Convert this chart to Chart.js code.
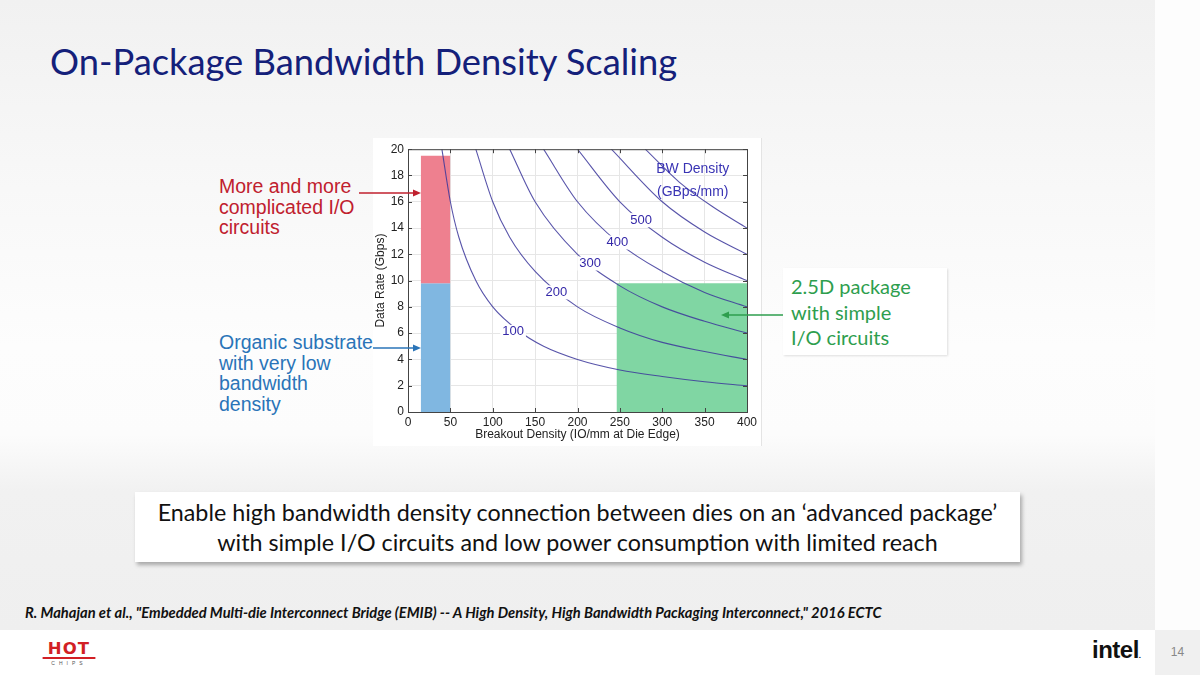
<!DOCTYPE html>
<html>
<head>
<meta charset="utf-8">
<script src="https://cdn.jsdelivr.net/npm/chart.js@4.4.1/dist/chart.umd.min.js"></script>
<style>
  html, body { margin: 0; padding: 0; }
  body { width: 1200px; height: 675px; position: relative; overflow: hidden; background: #fff; font-family: Lato, sans-serif; }
  .slide { position: absolute; left: 0; top: 0; width: 1155px; height: 630px;
    background: linear-gradient(to bottom, #f1f1f1 0%, #f8f8f8 30%, #fdfdfd 55%, #fcfcfc 69%, #f1f1f1 78%, #efefef 100%); }
  .side { position: absolute; left: 1155px; top: 0; width: 45px; height: 630px; background: #fdfdfd; }
  .pagebox { position: absolute; left: 1155px; top: 630px; width: 45px; height: 45px; background: #f0f0f0;
    color: #888; font: 12px "Liberation Sans", sans-serif; text-align: center; line-height: 45px; }
  .title { position: absolute; left: 50px; top: 39px; font-size: 36.3px; color: #14207a; white-space: nowrap; }
  .chartbox { position: absolute; left: 373px; top: 138px; width: 388px; height: 308px; background: #fff; border-right: 1px solid #e4e4e4; }
  #chart { position: absolute; left: 373px; top: 138px; }
  .note { position: absolute; font: 19.5px/20.5px "Liberation Sans", Arial, sans-serif; white-space: nowrap; }
  .red { left: 219px; top: 176px; color: #c0202e; }
  .blue { left: 219px; top: 332px; color: #2a74b8; }
  .greenbox { position: absolute; left: 783px; top: 268px; width: 164px; height: 87px; background: #fff;
    box-shadow: 1px 1px 2px rgba(0,0,0,0.12); }
  .greenbox div { position: absolute; left: 8px; top: 6px; font-size: 20px; line-height: 25.5px; color: #2e9e4e; white-space: nowrap; }
  .caption { position: absolute; left: 135px; top: 492px; width: 885px; height: 70px; background: #fff;
    box-shadow: 2px 3px 4px rgba(0,0,0,0.3); text-align: center; font-size: 23.3px; line-height: 30px; color: #111; }
  .caption div { padding-top: 5px; }
  .ref { position: absolute; left: 25px; top: 603px; font-size: 14.7px; font-weight: bold; font-style: italic; color: #111; white-space: nowrap; }
  .hot { position: absolute; left: 45px; top: 642px; width: 48px; text-align: center; }
  .hot .h { font: bold 15px/15px "DejaVu Sans", sans-serif; color: #d21f25; letter-spacing: 1px; border-bottom: 2px solid #d21f25; transform: scaleX(1.1); }
  .hot .c { font: 5px/8px "Liberation Sans", sans-serif; color: #555; letter-spacing: 4px; }
  .intel { position: absolute; left: 1092px; top: 636px; font: bold 24px "Liberation Sans", sans-serif; color: #111; letter-spacing: -0.5px; }
  svg { position: absolute; left: 0; top: 0; pointer-events: none; }
</style>
</head>
<body>
<div class="slide"></div>
<div class="side"></div>
<div class="pagebox">14</div>
<div class="title">On-Package Bandwidth Density Scaling</div>
<div class="chartbox"></div>
<canvas id="chart" width="390" height="310"></canvas>
<div class="note red">More and more<br>complicated I/O<br>circuits</div>
<div class="note blue">Organic substrate<br>with very low<br>bandwidth<br>density</div>
<div class="greenbox"><div>2.5D package<br>with simple<br>I/O circuits</div></div>
<div class="caption"><div>Enable high bandwidth density connection between dies on an ‘advanced package’<br>with simple I/O circuits and low power consumption with limited reach</div></div>
<div class="ref">R. Mahajan et al., "Embedded Multi-die Interconnect Bridge (EMIB) -- A High Density, High Bandwidth Packaging Interconnect," 2016 ECTC</div>
<div class="hot"><div class="h">HOT</div><div class="c">CHIPS</div></div>
<div class="intel">intel<span style="font-size:8px">.</span></div>
<svg width="1200" height="675">
  <line x1="359" y1="193" x2="414" y2="193" stroke="#c0202e" stroke-width="1.3"/>
  <polygon points="421,193 413,189.5 413,196.5" fill="#c0202e"/>
  <line x1="373" y1="348" x2="414" y2="348" stroke="#2a74b8" stroke-width="1.3"/>
  <polygon points="421,348 413,344.5 413,351.5" fill="#2a74b8"/>
  <line x1="783" y1="315" x2="728" y2="315" stroke="#2e9e4e" stroke-width="1.3"/>
  <polygon points="721,315 729,311.5 729,318.5" fill="#2e9e4e"/>
</svg>
<script>
(function(){
    // iso bandwidth-density curves, GBps/mm
    const bwLevels = [100, 200, 300, 400, 500, 600, 700];
    const curve100 = [[40,20],[50,16],[60,13.3],[80,10],[100,8],[130,6.2],[160,5],[200,4],[250,3.2],[300,2.7],[350,2.3],[400,2]];
    const curve200 = [[80,20],[100,16],[120,13.3],[150,10.7],[200,8],[250,6.4],[300,5.3],[350,4.6],[400,4]];
    const curve300 = [[120,20],[150,16],[200,12],[250,9.6],[300,8],[350,6.9],[400,6]];
    const curve400 = [[160,20],[200,16],[250,12.8],[300,10.7],[350,9.1],[400,8]];
    const curve500 = [[200,20],[250,16],[300,13.3],[350,11.4],[400,10]];
    const curve600 = [[240,20],[300,16],[350,13.7],[400,12]];
    const curve700 = [[280,20],[320,17.5],[360,15.6],[400,14]];
    const curves = [curve100, curve200, curve300, curve400, curve500, curve600, curve700];

    // label positions (x, y) for the first five curves
    const labelPos = [[124,6.1],[175,9.1],[215,11.3],[247,12.9],[275,14.6]];

    // shaded zones: [xStart, xEnd, yBottom, yTop]
    const redZone = [15, 50, 9.8, 19.5];
    const blueZone = [15, 50, 0, 9.8];
    const greenZone = [246, 400, 0, 9.8];

    const lineColor = 'rgba(60,55,155,0.85)';
    const labelColor = '#3428a8';

    function zone(z, color) {
        return {
            type: 'line',
            data: [{x: z[0], y: z[3]}, {x: z[1], y: z[3]}],
            backgroundColor: color,
            borderWidth: 0,
            pointRadius: 0,
            fill: {value: z[2]},
            order: 2
        };
    }

    let datasets = curves.map(function (c, i) {
        return {
            label: bwLevels[i],
            type: 'line',
            data: c.map(function (p) { return {x: p[0], y: p[1]}; }),
            borderColor: lineColor,
            borderWidth: 1.1,
            pointRadius: 0,
            cubicInterpolationMode: 'monotone',
            fill: false,
            order: 1
        };
    });
    datasets.push(zone(redZone, 'rgba(238,128,143,1)'));
    datasets.push(zone(blueZone, 'rgba(128,183,225,1)'));
    datasets.push(zone(greenZone, 'rgba(128,214,163,1)'));

    const frame = {
        id: 'frame',
        afterDatasetsDraw(chart) {
            const ctx = chart.ctx, a = chart.chartArea;
            const xs = chart.scales.x, ys = chart.scales.y;
            ctx.save();
            // curve labels with a white gap
            ctx.font = '13px "Liberation Sans", Arial, sans-serif';
            ctx.textAlign = 'center';
            ctx.textBaseline = 'middle';
            labelPos.forEach(function (p, i) {
                const px = xs.getPixelForValue(p[0]), py = ys.getPixelForValue(p[1]);
                const t = String(bwLevels[i]);
                const w = ctx.measureText(t).width + 4;
                ctx.fillStyle = '#fff';
                ctx.fillRect(px - w / 2, py - 7, w, 14);
                ctx.fillStyle = labelColor;
                ctx.fillText(t, px, py);
            });
            ctx.font = '14px "Liberation Sans", Arial, sans-serif';
            ctx.fillStyle = '#3a34b4';
            ctx.fillText('BW Density', xs.getPixelForValue(336), ys.getPixelForValue(18.5));
            ctx.fillText('(GBps/mm)', xs.getPixelForValue(336), ys.getPixelForValue(16.7));
            // box and inward ticks
            ctx.strokeStyle = '#444';
            ctx.lineWidth = 1;
            ctx.strokeRect(a.left + 0.5, a.top + 0.5, a.right - a.left, a.bottom - a.top);
            ctx.beginPath();
            xs.ticks.forEach(function (t) {
                const px = Math.round(xs.getPixelForValue(t.value)) + 0.5;
                ctx.moveTo(px, a.bottom); ctx.lineTo(px, a.bottom - 4);
                ctx.moveTo(px, a.top); ctx.lineTo(px, a.top + 4);
            });
            ys.ticks.forEach(function (t) {
                const py = Math.round(ys.getPixelForValue(t.value)) + 0.5;
                ctx.moveTo(a.left, py); ctx.lineTo(a.left + 4, py);
                ctx.moveTo(a.right, py); ctx.lineTo(a.right - 4, py);
            });
            ctx.stroke();
            ctx.restore();
        }
    };

    const tickFont = {family: '"Liberation Sans", Arial, sans-serif', size: 12};
    new Chart(document.getElementById('chart'), {
        type: 'line',
        data: {datasets: datasets},
        options: {
            responsive: false,
            animation: false,
            layout: {padding: {left: 0, top: 10, right: 16, bottom: 6}},
            plugins: {legend: {display: false}, tooltip: {enabled: false}},
            scales: {
                x: {
                    type: 'linear', min: 0, max: 400,
                    ticks: {stepSize: 50, color: '#222', font: tickFont, padding: 3, maxRotation: 0},
                    grid: {color: '#e6e6e6', drawTicks: false},
                    border: {display: false},
                    title: {display: true, text: 'Breakout Density (IO/mm at Die Edge)', color: '#222', font: tickFont, padding: 0},
                    afterFit: function (s) { s.height = 30; }
                },
                y: {
                    type: 'linear', min: 0, max: 20,
                    ticks: {stepSize: 2, color: '#222', font: tickFont, padding: 4},
                    grid: {color: '#e6e6e6', drawTicks: false},
                    border: {display: false},
                    title: {display: true, text: 'Data Rate (Gbps)', color: '#222', font: tickFont, padding: 0},
                    afterFit: function (s) { s.width = 35; }
                }
            }
        },
        plugins: [frame]
    });
})();
</script>
</body>
</html>
